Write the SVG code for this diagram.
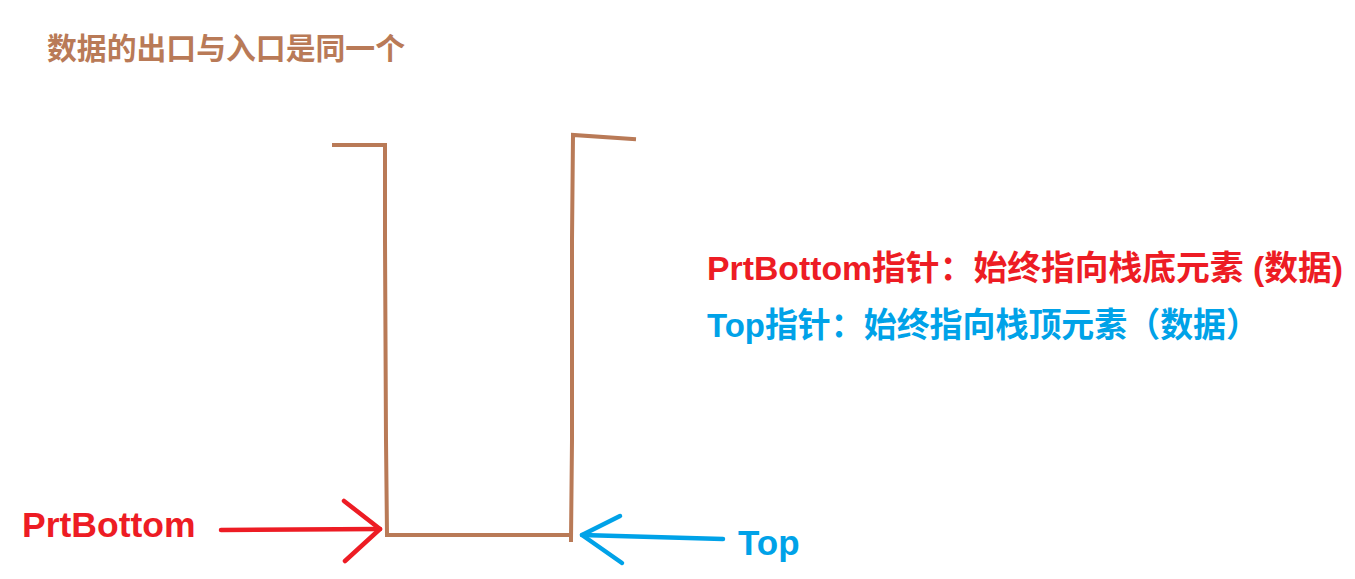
<svg xmlns="http://www.w3.org/2000/svg" width="1355" height="579" viewBox="0 0 1355 579">
<style>
.bg{fill:#ffffff}
.wall{fill:none;stroke:#b97a57;stroke-width:4;stroke-linecap:square;stroke-linejoin:miter}
.red{fill:none;stroke:#ed1c24;stroke-width:4.5;stroke-linecap:round;stroke-linejoin:round}
.blue{fill:none;stroke:#00a2e8;stroke-width:4.5;stroke-linecap:round;stroke-linejoin:round}
.t{font-family:"Liberation Sans","Noto Sans CJK SC",sans-serif;font-weight:bold}
.tr{fill:#ed1c24}
.tb{fill:#00a2e8}
.tt{fill:#b97a57}
</style>
<rect class="bg" x="0" y="0" width="1355" height="579"/>
<g id="title">
<text class="t tt" x="47" y="59" font-size="30" textLength="358" lengthAdjust="spacingAndGlyphs">数据的出口与入口是同一个</text>
</g>
<g id="stack">
<polyline class="wall" points="334,145 385,145 385,240 386,440 387,535 571,535"/>
<polyline class="wall" points="571,540 572,440 572,240 573,135 634,139"/>
</g>
<g id="desc-bottom">
<text class="t tr" x="707" y="280" font-size="34" textLength="636" lengthAdjust="spacingAndGlyphs">PrtBottom指针：始终指向栈底元素 (数据)</text>
</g>
<g id="desc-top">
<text class="t tb" x="707" y="337" font-size="34" textLength="552" lengthAdjust="spacingAndGlyphs">Top指针：始终指向栈顶元素（数据）</text>
</g>
<g id="label-prtbottom">
<text class="t tr" x="22" y="537" font-size="35.5">PrtBottom</text>
</g>
<g id="label-top">
<text class="t tb" x="738" y="555" font-size="35">Top</text>
</g>
<g id="connectors">
<polyline class="red" points="221,530 380,529"/>
<polyline class="red" points="344,501 380,529 345,561"/>
<polyline class="blue" points="723,539 582,535"/>
<polyline class="blue" points="620,516 582,535 622,563"/>
</g>
</svg>
